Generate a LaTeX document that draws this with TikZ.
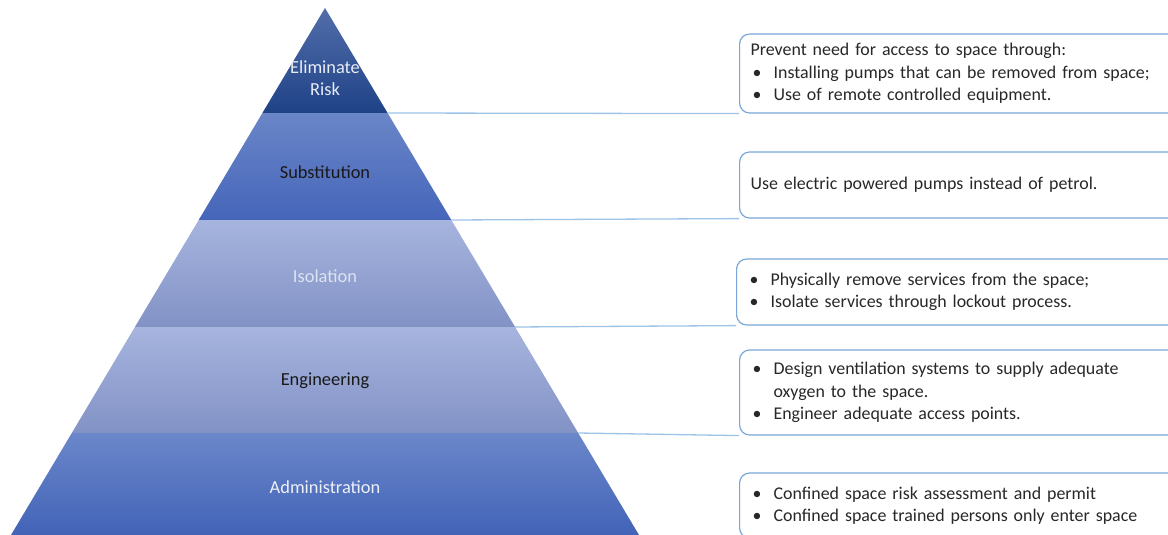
\documentclass[tikz,border=0pt]{standalone}
\usepackage{fontspec}
\setmainfont{Carlito}
\usepackage{xcolor}
\usetikzlibrary{positioning}
\definecolor{boxline}{RGB}{122,167,218}
\definecolor{linkline}{RGB}{157,195,230}
\definecolor{boxtext}{RGB}{40,40,40}
\tikzset{
	infobox/.style={
			draw=boxline, line width=1.2pt, rounded corners=10pt, fill=white,
			anchor=west, text width=420pt, inner xsep=11pt, inner ysep=0pt,
			align=left, text=boxtext, font=\fontsize{17.9}{22.5}\selectfont
		},
	level/.style={font=\fontsize{18.4}{22}\selectfont, align=center},
	link/.style={draw=linkline, line width=1.3pt}
}
\newcommand{\itm}{\makebox[23pt][l]{\hspace{2pt}\textbullet}}

\begin{document}
\begin{tikzpicture}[x=1pt, y=-1pt]
			\useasboundingbox (0, 0) rectangle (1168, 535);
			\clip (0, 0) rectangle (1168, 535);

			% pyramid layers
			\shade[top color={rgb,255:red,82;green,110;blue,170}, bottom color={rgb,255:red,31;green,66;blue,135}]
				(325, 8) -- (387.6, 113) -- (262.4, 113) -- cycle;
			\shade[top color={rgb,255:red,106;green,134;blue,200}, bottom color={rgb,255:red,69;green,101;blue,185}]
				(262.4, 113) -- (387.6, 113) -- (451.3, 220) -- (198.7, 220) -- cycle;
			\shade[top color={rgb,255:red,166;green,180;blue,222}, bottom color={rgb,255:red,130;green,146;blue,197}]
				(198.7, 220) -- (451.3, 220) -- (515.1, 327) -- (134.9, 327) -- cycle;
			\shade[top color={rgb,255:red,166;green,180;blue,222}, bottom color={rgb,255:red,130;green,146;blue,197}]
				(134.9, 327) -- (515.1, 327) -- (578.2, 433) -- (71.8, 433) -- cycle;
			\shade[top color={rgb,255:red,107;green,135;blue,202}, bottom color={rgb,255:red,66;green,99;blue,183}]
				(71.8, 433) -- (578.2, 433) -- (639, 535) -- (11, 535) -- cycle;

			\coordinate (r1) at (387.6, 113);
			\coordinate (r2) at (451.3, 220);
			\coordinate (r3) at (515.1, 327);
			\coordinate (r4) at (578.2, 433);

			% layer labels
			\node[level, text={rgb,255:red,232;green,236;blue,245}] (elim) at (325, 78) {Eliminate\\Risk};
			\node[level, text={rgb,255:red,25;green,25;blue,25}] (subst) at (325, 172) {Substitution};
			\node[level, text={rgb,255:red,222;green,227;blue,240}] (isol) at (325, 276) {Isolation};
			\node[level, text={rgb,255:red,25;green,25;blue,25}] (eng) at (325, 381) {Engineering};
			\node[level, text={rgb,255:red,238;green,240;blue,248}] (admin) at (325, 487) {Administration};

			% control boxes
			\node[infobox, minimum height=79pt] (b1) at (739, 73.5)
				{Prevent need for access to space through:\\
				 \itm Installing pumps that can be removed from space;\\
				 \itm Use of remote controlled equipment.};
			\node[infobox, minimum height=66pt] (b2) at (739, 185)
				{Use electric powered pumps instead of petrol.};
			\node[infobox, minimum height=66pt] (b3) at (736, 292)
				{\itm Physically remove services from the space;\\
				 \itm Isolate services through lockout process.};
			\node[infobox, minimum height=85pt] (b4) at (739, 392.5)
				{\itm Design ventilation systems to supply adequate\\
				 \hspace*{23pt}oxygen to the space.\\
				 \itm Engineer adequate access points.};
			\node[infobox, minimum height=65pt] (b5) at (739, 505.5)
				{\itm Confined space risk assessment and permit\\
				 \itm Confined space trained persons only enter space};

			% links
			\draw[link] (r1) -- (b1.south west);
			\draw[link] (r2) -- (b2.south west);
			\draw[link] (r3) -- (b3.south west);
			\draw[link] (r4) -- (b4.south west);
		\end{tikzpicture}
\end{document}
